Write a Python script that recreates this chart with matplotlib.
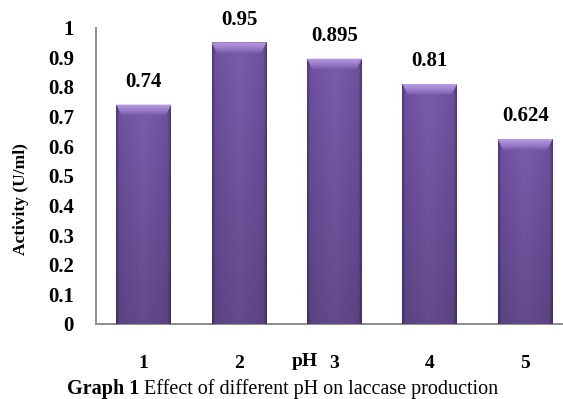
import numpy as np
import matplotlib
matplotlib.use("Agg")
from matplotlib import pyplot as plt
from matplotlib.colors import LinearSegmentedColormap
from matplotlib.patches import Polygon

ph_levels = ["1", "2", "3", "4", "5"]
activity = [0.74, 0.95, 0.895, 0.81, 0.624]
value_labels = ["0.74", "0.95", "0.895", "0.81", "0.624"]
yticks = [0, 0.1, 0.2, 0.3, 0.4, 0.5, 0.6, 0.7, 0.8, 0.9, 1]
ytick_labels = ["0", "0.1", "0.2", "0.3", "0.4", "0.5", "0.6", "0.7", "0.8", "0.9", "1"]

plt.rcParams["font.family"] = ["Liberation Serif", "DejaVu Serif"]

fig = plt.figure(figsize=(5.63, 3.99), dpi=100)
ax = fig.add_axes([0.1705, 0.188, 0.847, 0.743])

x = np.arange(1, len(activity) + 1)
bars = ax.bar(x, activity, width=0.576, color="#7457a0", zorder=2)

# bevelled look: soft dark edges, slight vertical fade and a light cap on top
side = LinearSegmentedColormap.from_list(
    "side", [(0, "#4e3870"), (0.06, "#6e51a0"), (0.5, "#7b5cab"),
             (0.94, "#6e51a0"), (1, "#4e3870")])
cap = LinearSegmentedColormap.from_list(
    "cap", ["#7b5cab", "#9d7fcc", "#b89be2"])
for b in bars:
    x0, w, h = b.get_x(), b.get_width(), b.get_height()
    grad = np.linspace(0, 1, 128).reshape(1, -1) * np.ones((64, 1))
    im = ax.imshow(grad, cmap=side, aspect="auto",
                   extent=(x0, x0 + w, 0, h), zorder=3, interpolation="bilinear")
    im.set_clip_path(b)
    shade = np.linspace(0.18, 0, 64).reshape(-1, 1) * np.ones((1, 8))
    dark = np.zeros((64, 8, 4))
    dark[..., 3] = shade
    ax.imshow(dark, aspect="auto", origin="lower", extent=(x0, x0 + w, 0, h),
              zorder=3.5, interpolation="bilinear").set_clip_path(b)
    ch = 0.036
    inset = w * 0.1
    trap = Polygon([(x0, h), (x0 + w, h), (x0 + w - inset, h - ch), (x0 + inset, h - ch)],
                   closed=True, transform=ax.transData, visible=False)
    ax.add_patch(trap)
    im2 = ax.imshow(np.linspace(0, 1, 32).reshape(-1, 1), cmap=cap, aspect="auto",
                    origin="lower", extent=(x0, x0 + w, h - ch, h),
                    zorder=4, interpolation="bilinear")
    im2.set_clip_path(trap)

for xi, v, lab in zip(x, activity, value_labels):
    ax.annotate(lab, (xi, v), xytext=(0, 9), textcoords="offset points",
                ha="center", va="bottom", fontsize=15, fontweight="bold")

ax.set_xlim(0.5, 5.5)
ax.set_ylim(0, 1)
ax.set_xticks(x)
ax.set_xticklabels(ph_levels, fontsize=14, fontweight="bold")
ax.set_yticks(yticks)
ax.set_yticklabels(ytick_labels, fontsize=15, fontweight="bold")
ax.tick_params(axis="y", length=0, pad=16)
ax.tick_params(axis="x", length=0, pad=22)

for s in ["top", "right"]:
    ax.spines[s].set_visible(False)
for s in ["left", "bottom"]:
    ax.spines[s].set_color("#8c8c8c")
    ax.spines[s].set_linewidth(1.4)

ax.set_ylabel("Activity (U/ml)", fontsize=12.5, fontweight="bold")
ax.yaxis.set_label_coords(-0.14, 0.42)
ax.text(2.69, -0.098, "pH", transform=ax.transData, ha="center", va="top",
        fontsize=14, fontweight="bold")

t1 = fig.text(0.119, 0.0, "Graph 1", fontsize=14.5, fontweight="bold",
              ha="left", va="bottom")
ax.annotate(" Effect of different pH on laccase production", xy=(1, 0),
            xycoords=t1, ha="left", va="bottom", fontsize=14.5,
            annotation_clip=False)

fig.savefig("out.png", dpi=100)
